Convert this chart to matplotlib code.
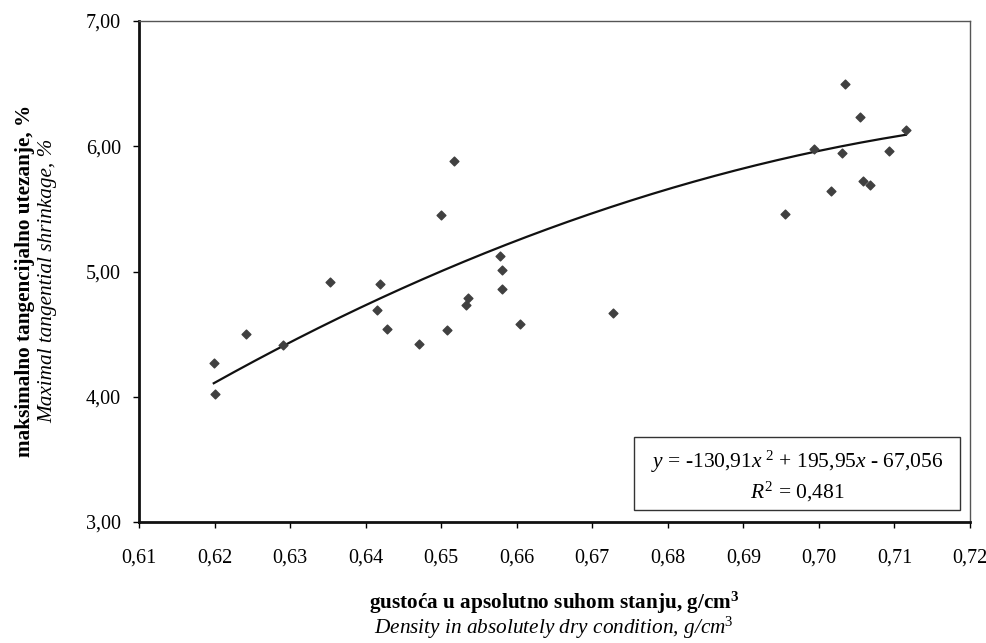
import numpy as np
import matplotlib
matplotlib.use("Agg")
import matplotlib.pyplot as plt
from matplotlib.patches import Rectangle
from matplotlib.ticker import FuncFormatter

plt.rcParams['font.family'] = ['Liberation Serif', 'DejaVu Serif']
plt.rcParams['mathtext.fontset'] = 'custom'
plt.rcParams['mathtext.rm'] = 'Liberation Serif'
plt.rcParams['mathtext.it'] = 'Liberation Serif:italic'
plt.rcParams['mathtext.bf'] = 'Liberation Serif:bold'

# gustoca (g/cm3) i maksimalno tangencijalno utezanje (%)
density = [0.6199, 0.6200, 0.6242, 0.6290, 0.6353, 0.6419, 0.6415, 0.6428,
           0.6471, 0.6500, 0.6517, 0.6508, 0.6535, 0.6533, 0.6578, 0.6581,
           0.6581, 0.6604, 0.6727, 0.6955, 0.6993, 0.7034, 0.7031, 0.7016,
           0.7054, 0.7058, 0.7068, 0.7093, 0.7115]
shrinkage = [4.27, 4.02, 4.50, 4.41, 4.92, 4.90, 4.69, 4.54,
             4.42, 5.45, 5.88, 4.53, 4.79, 4.73, 5.12, 5.01,
             4.86, 4.58, 4.67, 5.46, 5.98, 6.50, 5.95, 5.64,
             6.23, 5.72, 5.69, 5.96, 6.13]

# polinom 2. reda iz Excela
coef = [-130.91, 195.95, -67.056]
r2 = 0.481

xticks = [0.61, 0.62, 0.63, 0.64, 0.65, 0.66, 0.67, 0.68, 0.69, 0.70, 0.71, 0.72]
yticks = [3, 4, 5, 6, 7]


def zarez(v, p=None, d=2):
    return ('%.*f' % (d, v)).replace('.', ',')


fig = plt.figure(figsize=(9.87, 6.43), dpi=100)
ax = fig.add_axes([0.1408, 0.1882, 0.842, 0.7791])

ax.scatter(density, shrinkage, marker='D', s=20, color='#404040', zorder=3)

xx = np.linspace(min(density), max(density), 200)
ax.plot(xx, np.polyval(coef, xx), color='#111111', lw=1.6, zorder=2)

ax.set_xlim(0.61, 0.72)
ax.set_ylim(3, 7)
ax.set_xticks(xticks)
ax.set_yticks(yticks)
ax.xaxis.set_major_formatter(FuncFormatter(zarez))
ax.yaxis.set_major_formatter(FuncFormatter(zarez))
ax.tick_params(labelsize=14.5, direction='out', length=4, width=1, colors='black')
ax.tick_params(axis='x', pad=15)
ax.tick_params(axis='y', pad=9)

for s in ['left', 'bottom']:
    ax.spines[s].set_linewidth(2)
    ax.spines[s].set_color('#111111')
for s in ['top', 'right']:
    ax.spines[s].set_linewidth(1)
    ax.spines[s].set_color('#555555')

# okvir s jednadzbom
ax.add_patch(Rectangle((0.5957, 0.024), 0.3923, 0.1457, transform=ax.transAxes,
                       fill=False, edgecolor='#333333', lw=1, zorder=4))
eq = r'$y$ = %s$x^{\ 2}$ + %s$x$ - %s' % (zarez(coef[0]), zarez(coef[1]), zarez(-coef[2], d=3))
ax.text(0.792, 0.1198, eq, transform=ax.transAxes, ha='center', va='center', fontsize=15.5)
ax.text(0.792, 0.0599, r'$R^{2}$ = ' + zarez(r2, d=3),
        transform=ax.transAxes, ha='center', va='center', fontsize=15.5)

# naslovi osi
fig.text(0.5613, 1 - 603 / 643, 'gustoća u apsolutno suhom stanju, g/cm$^{\\mathbf{3}}$',
         ha='center', va='center', fontsize=15.3, fontweight='bold')
fig.text(0.5613, 1 - 628 / 643, 'Density in absolutely dry condition, g/cm$^{3}$',
         ha='center', va='center', fontsize=15.3, style='italic')
fig.text(25 / 987, 1 - 281 / 643, 'maksimalno tangencijalno utezanje, %',
         ha='center', va='center', rotation=90, fontsize=15.3, fontweight='bold')
fig.text(48 / 987, 1 - 281 / 643, 'Maximal tangential shrinkage, %',
         ha='center', va='center', rotation=90, fontsize=15.3, style='italic')

fig.savefig('out.png', dpi=100)
